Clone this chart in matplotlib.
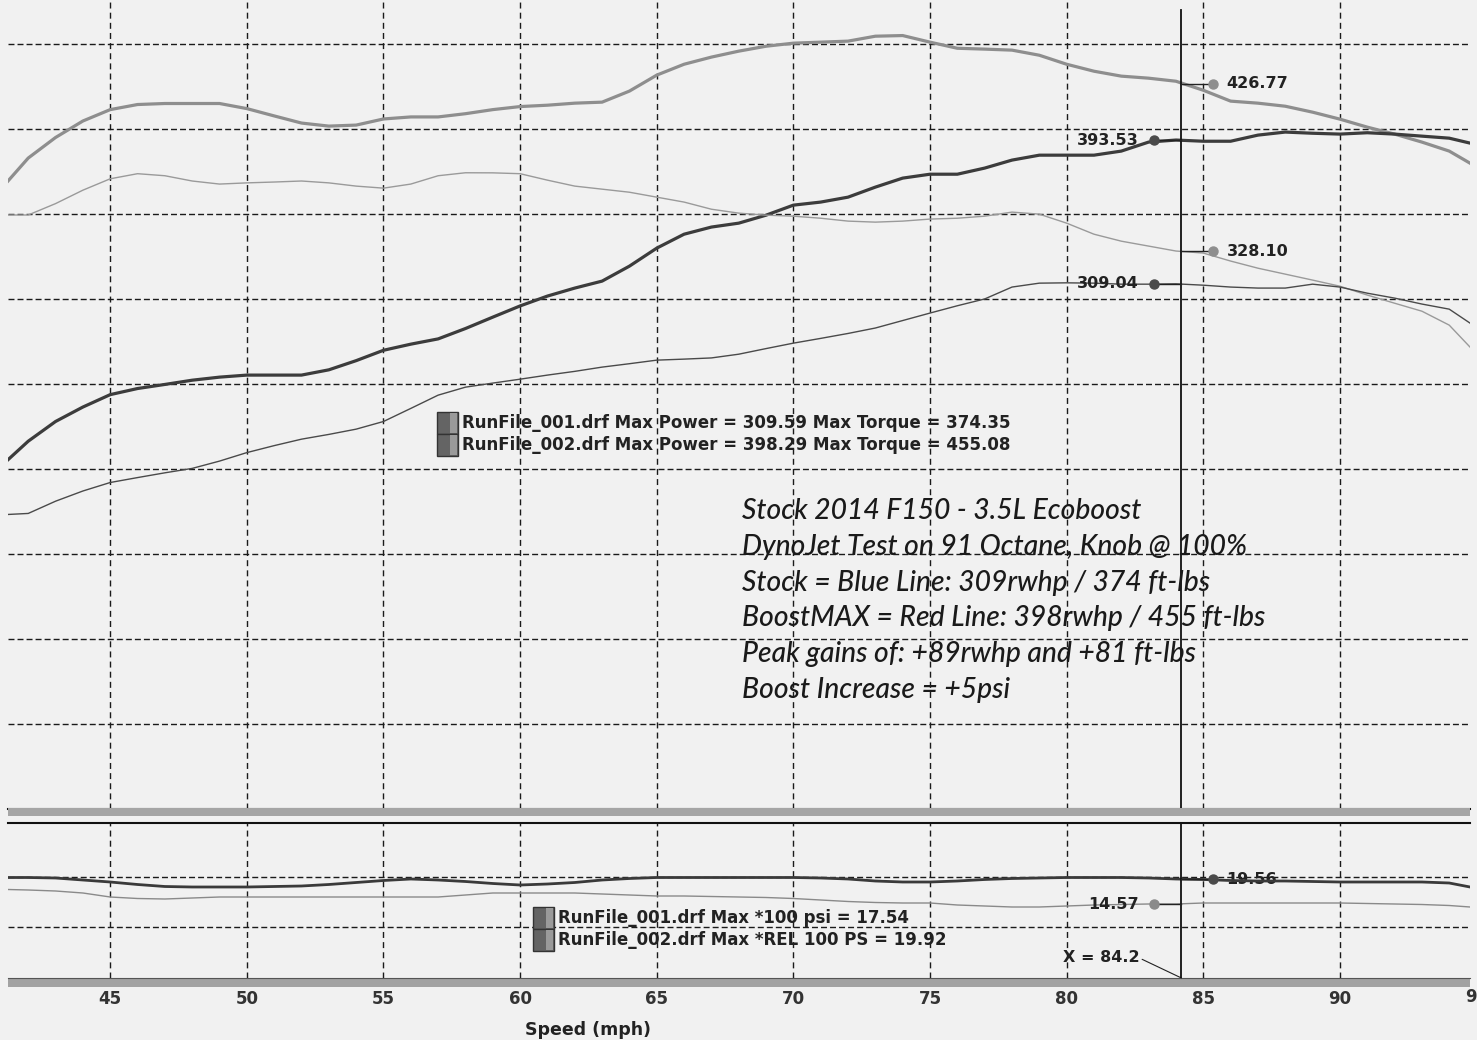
import matplotlib.pyplot as plt
from matplotlib.patches import Rectangle
from matplotlib.ticker import MultipleLocator

# chart values
speed_mph = [41.26, 42, 43, 44, 45, 46, 47, 48, 49, 50, 51, 52, 53, 54, 55, 56, 57, 58, 59,
             60, 61, 62, 63, 64, 65, 66, 67, 68, 69, 70, 71, 72, 73, 74, 75, 76, 77, 78, 79,
             80, 81, 82, 83, 84, 85, 86, 87, 88, 89, 90, 91, 92, 93, 94, 94.76]

# RunFile_002 (BoostMAX)
run2_torque = [369.5, 383.0, 395.1, 404.8, 411.5, 414.5, 415.1, 415.1, 415.1, 412.1, 407.8,
               403.6, 401.8, 402.4, 406.0, 407.2, 407.2, 409.1, 411.5, 413.3, 414.1, 415.3,
               415.9, 422.4, 431.8, 438.2, 442.4, 445.9, 448.8, 450.6, 451.2, 451.8, 454.7,
               455.08, 451.2, 447.6, 447.1, 446.5, 443.5, 438.2, 434.1, 431.2, 430.0, 428.2,
               422.9, 416.5, 415.3, 413.5, 410.0, 405.9, 401.2, 397.1, 392.4, 387.1, 380.0]
run2_power = [205.5, 216.4, 228.0, 236.5, 243.8, 247.4, 249.8, 252.3, 254.1, 255.3, 255.3,
              255.3, 258.4, 263.8, 269.9, 273.5, 276.6, 282.7, 289.4, 296.0, 301.8, 306.5,
              310.6, 319.4, 330.0, 338.2, 342.4, 344.7, 349.4, 355.3, 357.1, 360.0, 365.9,
              371.2, 373.5, 373.5, 377.1, 381.8, 384.7, 384.7, 384.7, 387.1, 392.4, 393.6,
              392.9, 392.9, 396.5, 398.29, 397.6, 397.1, 397.9, 397.1, 395.9, 394.7, 391.8]

# RunFile_001 (stock)
run1_torque = [349.5, 349.5, 356.2, 364.1, 370.8, 373.8, 372.6, 369.5, 367.7, 368.4, 368.9,
               369.5, 368.4, 366.5, 365.3, 367.7, 372.6, 374.35, 374.3, 373.8, 370.0, 366.5,
               364.7, 362.9, 360.0, 357.1, 352.9, 350.6, 349.4, 348.8, 347.6, 345.9, 345.3,
               345.9, 347.1, 347.6, 348.8, 351.2, 350.0, 344.7, 338.2, 334.1, 331.2, 328.3,
               327.1, 322.4, 318.2, 314.7, 311.2, 307.6, 302.4, 297.6, 292.9, 284.7, 271.8]
run1_power = [173.3, 173.9, 181.1, 187.1, 192.1, 195.0, 197.8, 200.4, 204.7, 209.7, 213.8,
              217.6, 220.4, 223.5, 228.0, 235.7, 243.5, 248.2, 250.6, 252.9, 255.3, 257.5,
              260.0, 262.0, 264.1, 264.7, 265.4, 267.6, 270.9, 274.1, 276.9, 279.8, 283.0,
              287.4, 291.8, 296.1, 300.1, 307.1, 309.4, 309.59, 309.4, 308.8, 308.8, 309.0,
              308.2, 307.1, 306.5, 306.5, 308.8, 307.1, 303.5, 300.6, 297.1, 294.1, 285.9]

# boost (psi)
run2_boost = [19.9, 19.9, 19.8, 19.4, 19.0, 18.5, 18.1, 18.0, 18.0, 18.0, 18.1, 18.2, 18.5,
              18.9, 19.3, 19.6, 19.4, 19.1, 18.7, 18.4, 18.6, 18.9, 19.4, 19.7, 19.9, 19.9,
              19.9, 19.9, 19.9, 19.9, 19.8, 19.6, 19.2, 19.0, 19.0, 19.2, 19.5, 19.7, 19.8,
              19.9, 19.9, 19.9, 19.8, 19.6, 19.5, 19.3, 19.2, 19.2, 19.1, 19.0, 19.0, 19.0,
              19.0, 18.8, 18.0]
run1_boost = [17.5, 17.4, 17.2, 16.8, 16.0, 15.7, 15.6, 15.8, 16.0, 16.0, 16.0, 16.0, 16.0,
              16.0, 16.0, 16.0, 16.0, 16.4, 16.8, 16.8, 16.8, 16.8, 16.6, 16.4, 16.2, 16.2,
              16.1, 16.0, 15.9, 15.7, 15.4, 15.1, 14.9, 14.8, 14.8, 14.4, 14.2, 14.0, 14.0,
              14.2, 14.4, 14.5, 14.6, 14.6, 14.8, 14.8, 14.8, 14.8, 14.8, 14.8, 14.7, 14.6,
              14.5, 14.3, 14.0]

cursor_x = 84.2
cursor_top = [426.77, 393.53, 328.10, 309.04]   # torque2, power2, torque1, power1
cursor_boost = [19.56, 14.57]                   # run2, run1

speed_ticks = [45, 50, 55, 60, 65, 70, 75, 80, 85, 90]
power_grid = [50, 100, 150, 200, 250, 300, 350, 400, 450]
boost_grid = [10, 20]

legend_top = ["RunFile_001.drf Max Power = 309.59 Max Torque = 374.35",
              "RunFile_002.drf Max Power = 398.29 Max Torque = 455.08"]
legend_bot = ["RunFile_001.drf Max *100 psi = 17.54",
              "RunFile_002.drf Max *REL 100 PS = 19.92"]
notes = ["Stock 2014 F150 - 3.5L Ecoboost",
         "DynoJet Test on 91 Octane, Knob @ 100%",
         "Stock = Blue Line: 309rwhp / 374 ft-lbs",
         "BoostMAX = Red Line: 398rwhp / 455 ft-lbs",
         "Peak gains of: +89rwhp and +81 ft-lbs",
         "Boost Increase = +5psi"]

W, H = 1477, 1040
BG = '#f1f1f1'
INK = '#222222'


def box(left, top, w, h):
    return [left / W, 1 - (top + h) / H, w / W, h / H]


fig = plt.figure(figsize=(W / 100, H / 100), dpi=100, facecolor=BG)
ax = fig.add_axes(box(8, 0, 1462, 809))
axb = fig.add_axes(box(8, 823, 1462, 155))

for a in (ax, axb):
    a.set_facecolor('none')
    a.set_xlim(41.26, 94.76)
    a.set_xticks(speed_ticks)
    a.xaxis.grid(True, color='#1a1a1a', lw=1, linestyle=(0, (4.3, 3)))
    a.yaxis.grid(True, color='#1a1a1a', lw=1, linestyle=(0, (4.3, 2.2)))
    a.set_axisbelow(True)
    for s in ('left', 'right'):
        a.spines[s].set_visible(False)

# upper panel: power / torque
ax.set_ylim(0, 476)
ax.set_yticks(power_grid)
ax.tick_params(length=0, labelbottom=False, labelleft=False)
ax.spines['top'].set_visible(False)
ax.spines['bottom'].set_color('#111111')
ax.spines['bottom'].set_linewidth(1.5)

ax.plot(speed_mph, run2_torque, color='#8e8e8e', lw=2.3, zorder=3)
ax.plot(speed_mph, run2_power, color='#3c3c3c', lw=2.3, zorder=3)
ax.plot(speed_mph, run1_torque, color='#9a9a9a', lw=1.0, zorder=3)
ax.plot(speed_mph, run1_power, color='#4a4a4a', lw=1.0, zorder=3)

ax.axvline(cursor_x, ymax=0.988, color='#111111', lw=1.3, zorder=4)
marker_cols = ['#8e8e8e', '#4a4a4a', '#8e8e8e', '#4a4a4a']
sides = ['right', 'left', 'right', 'left']
for val, col, side in zip(cursor_top, marker_cols, sides):
    mx = 85.35 if side == 'right' else 83.2
    ax.plot([cursor_x, mx], [val, val], color=INK, lw=1, zorder=4)
    ax.plot(mx, val, 'o', ms=6.5, color=col, zorder=5)
    if side == 'right':
        ax.text(mx + 0.5, val, f'{val:.2f}', ha='left', va='center',
                fontsize=11.5, fontweight='bold', color=INK)
    else:
        ax.text(mx - 0.55, val, f'{val:.2f}', ha='right', va='center',
                fontsize=11.5, fontweight='bold', color=INK)

# lower panel: boost
axb.set_ylim(-0.2, 30.8)
axb.set_yticks(boost_grid)
axb.tick_params(axis='y', length=0, labelleft=False)
axb.spines['top'].set_color('#111111')
axb.spines['top'].set_linewidth(1.5)
axb.spines['bottom'].set_color('#555555')
axb.xaxis.set_minor_locator(MultipleLocator(1))
axb.tick_params(axis='x', which='both', direction='out', length=4, width=1, color='#222222')
axb.tick_params(axis='x', which='major', labelsize=12, pad=5, labelcolor='#333333')
axb.set_xticks(speed_ticks, [str(t) for t in speed_ticks], fontweight='bold')
# the "95" label is cut by the right edge of the sheet
axb.text(95, -2.3, '95', ha='center', va='top', fontsize=12,
         fontweight='bold', color='#333333', clip_on=False)
axb.set_xlabel('Speed (mph)', fontsize=12.5, fontweight='bold', color=INK)
axb.xaxis.set_label_coords((588 - 8) / 1462, -0.275)
axb.add_patch(Rectangle((0, -9 / 155), 1, 9 / 155, transform=axb.transAxes, clip_on=False,
                        fc='#a2a2a2', ec='none', zorder=1))

axb.plot(speed_mph, run2_boost, color='#3a3a3a', lw=2.0, zorder=3)
axb.plot(speed_mph, run1_boost, color='#8a8a8a', lw=1.0, zorder=3)
axb.axvline(cursor_x, color='#111111', lw=1.3, zorder=4)
for val, col, side in zip(cursor_boost, ['#4a4a4a', '#8a8a8a'], ['right', 'left']):
    mx = 85.35 if side == 'right' else 83.2
    axb.plot([cursor_x, mx], [val, val], color=INK, lw=1, zorder=4)
    axb.plot(mx, val, 'o', ms=6.5, color=col, zorder=5)
    if side == 'right':
        axb.text(mx + 0.5, val, f'{val:.2f}', ha='left', va='center',
                 fontsize=11.5, fontweight='bold', color=INK, zorder=2)
    else:
        axb.text(mx - 0.55, val, f'{val:.2f}', ha='right', va='center',
                 fontsize=11.5, fontweight='bold', color=INK)
axb.annotate(f'X = {cursor_x}', xy=(cursor_x, -0.2), xytext=(82.66, 3.8),
             ha='right', va='center', fontsize=11.5, fontweight='bold', color=INK,
             arrowprops=dict(arrowstyle='-', color=INK, lw=0.8, shrinkA=0, shrinkB=0,
                             relpos=(1, 0.5)))

# gray divider band between the panels
fig.add_artist(Rectangle((8 / W, 1 - 816 / H), 1462 / W, 8 / H, transform=fig.transFigure,
                         fc='#a5a5a5', ec='none'))


def swatch(left, top):
    fig.add_artist(Rectangle((left / W, 1 - (top + 22) / H), 21 / W, 22 / H,
                             transform=fig.transFigure, fc='#646464', ec='#333333', lw=1))
    fig.add_artist(Rectangle(((left + 13) / W, 1 - (top + 21) / H), 7 / W, 20 / H,
                             transform=fig.transFigure, fc='#9a9a9a', ec='none'))


for i, line in enumerate(legend_top):
    swatch(437, 412 + 22 * i)
    fig.text(462 / W, 1 - (423 + 22 * i) / H, line, ha='left', va='center',
             fontsize=12, fontweight='bold', color=INK)
for i, line in enumerate(legend_bot):
    swatch(533, 907 + 22 * i)
    fig.text(558 / W, 1 - (918 + 22 * i) / H, line, ha='left', va='center',
             fontsize=12, fontweight='bold', color=INK)

for i, line in enumerate(notes):
    fig.text(742 / W, 1 - (511 + 35.8 * i) / H, line, ha='left', va='center',
             fontsize=20.3, style='italic', family='Lato', weight='medium', color='#1a1a1a')

fig.savefig('out.png', dpi=100, facecolor=BG)
